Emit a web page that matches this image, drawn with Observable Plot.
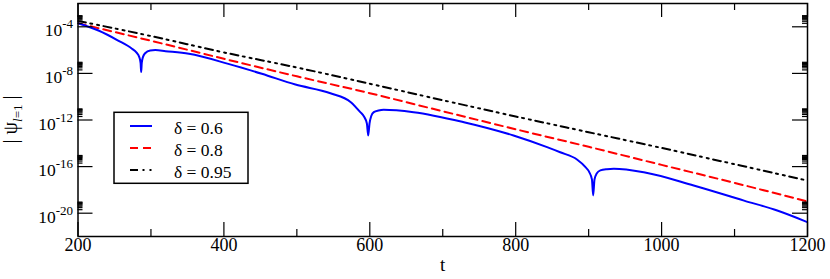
<!DOCTYPE html>
<html><head><meta charset="utf-8">
<script src="https://cdn.jsdelivr.net/npm/d3@7"></script>
<script src="https://cdn.jsdelivr.net/npm/@observablehq/plot@0.6"></script>
<style>
html,body{margin:0;padding:0;background:#fff;}
#chart svg{display:block;}
#chart svg text{font-family:"Liberation Serif","Times New Roman",Times,Tinos,"DejaVu Serif","Noto Serif",serif;}
</style></head><body><div id="chart"></div>
<script>
// ---- data ----
const tBlue = [200,228,255,274,280,284,285.8,286.6,287.4,289,292,299,306,320,352,406,452,498,546,574,587,592,596,597.8,599.6,602,605.5,612,619,660,729,797,843,861,884,895,901,904.5,906.2,908,911,916,925,934.5,975.6,1044,1113,1158.5,1200];
const psiBlue = [2.0e-4,4.8e-5,6.6e-6,1.3e-6,6.3e-7,2.5e-7,7.9e-8,1.3e-8,7.9e-8,2.5e-7,5.4e-7,9.3e-7,1.0e-6,8.1e-7,4.8e-7,6.6e-8,9.3e-9,1.1e-9,2.0e-10,3.4e-11,4.7e-12,2.0e-12,5.0e-13,4.7e-14,5.0e-13,2.2e-12,4.7e-12,6.6e-12,7.6e-12,4.7e-12,6.5e-13,4.7e-14,4.7e-15,1.7e-15,4.1e-16,1.0e-16,3.2e-17,7.9e-18,3.3e-19,7.9e-18,2.5e-17,4.7e-17,6.0e-17,6.5e-17,3.3e-17,2.4e-18,1.2e-19,1.7e-20,1.7e-21];
const tRed = [200,300,400,500,600,700,800,900,1000,1100,1200];
const psiRed = [2.0e-4,6.3e-6,1.8e-7,5.6e-9,2.0e-10,5.6e-12,1.6e-13,5.0e-15,1.4e-16,4.0e-18,1.0e-19];
const tBlack = [200,300,400,500,600,700,800,900,1000,1100,1200];
const psiBlack = [3.2e-4,1.6e-5,6.3e-7,3.2e-8,1.3e-9,5.0e-11,2.0e-12,8.9e-14,4.0e-15,1.6e-16,6.3e-18];

const seriesNames = ["δ = 0.6", "δ = 0.8", "δ = 0.95"];
const seriesColors = ["#0000ff", "#ff0000", "#000000"];
const seriesDash = [null, "8,5", "8,4.5,2,5,2,4.5"];

const xMajorTicks = [200,400,600,800,1000,1200];
const xMinorTicks = [300,500,700,900,1100];
const yMajorTicks = [1e-4,1e-8,1e-12,1e-16,1e-20];
const yTickExponents = ["-4","-8","-12","-16","-20"];
const yMinorMultipliers = [2,3,4,5,6,7,8,9];
const xLabel = "t";

// ---- layout ----
const W = 830, H = 279;
const mL = 77.5, mR = 23, mT = 3, mB = 43;
const innerW = W - mL - mR, innerH = H - mT - mB;
const FONT = "Liberation Serif, Times New Roman, Times, Tinos, DejaVu Serif, Noto Serif, serif";

const rows = (ts, vs, name) => ts.map((t, i) => ({t, v: vs[i], name}));
const data = [
  ...rows(tBlue, psiBlue, seriesNames[0]),
  ...rows(tRed, psiRed, seriesNames[1]),
  ...rows(tBlack, psiBlack, seriesNames[2])
];
const yMinorTicks = yMajorTicks.flatMap(m => yMinorMultipliers.map(k => k * m));

const lineMark = (i) => Plot.line(data.filter(d => d.name === seriesNames[i]), {
  x: "t", y: "v", stroke: seriesColors[i], strokeWidth: 2,
  strokeDasharray: seriesDash[i] || undefined, curve: "monotone-x", clip: true
});

const tickStyle = {stroke: "#000", strokeWidth: 1.2};

const plot = Plot.plot({
  width: W, height: H,
  marginLeft: mL, marginRight: mR, marginTop: mT, marginBottom: mB,
  style: {fontFamily: FONT, background: "#fff", overflow: "visible", color: "#000"},
  x: {domain: [200, 1200], axis: null},
  y: {type: "log", domain: [1e-22, 1e-2], axis: null},
  marks: [
    lineMark(2), lineMark(1), lineMark(0),
    Plot.tickX(xMajorTicks, {x: d => d, insetTop: innerH - 14, ...tickStyle}),
    Plot.tickX(xMinorTicks, {x: d => d, insetTop: innerH - 7, ...tickStyle}),
    Plot.tickX(xMajorTicks, {x: d => d, insetBottom: innerH - 14, ...tickStyle}),
    Plot.tickX(xMinorTicks, {x: d => d, insetBottom: innerH - 7, ...tickStyle}),
    Plot.tickY(yMajorTicks, {y: d => d, insetRight: innerW - 15, ...tickStyle}),
    Plot.tickY(yMinorTicks, {y: d => d, insetRight: innerW - 5, ...tickStyle}),
    Plot.tickY(yMajorTicks, {y: d => d, insetLeft: innerW - 15, ...tickStyle}),
    Plot.tickY(yMinorTicks, {y: d => d, insetLeft: innerW - 5, ...tickStyle}),
    Plot.frame({stroke: "#000", strokeWidth: 1.5}),
    Plot.text(xMajorTicks, {x: d => d, frameAnchor: "bottom", dy: 14.5, text: d => String(d), fontSize: 18, fill: "#000"}),
    Plot.text([xLabel], {frameAnchor: "bottom", dy: 34, text: d => d, fontSize: 19, fill: "#000"})
  ]
});

document.getElementById("chart").appendChild(plot);

const svg = d3.select(plot);
const yScale = plot.scale("y");

yMajorTicks.forEach((v, i) => {
  const y = yScale.apply(v);
  const t = svg.append("text")
    .attr("x", 73).attr("y", y + 10)
    .attr("text-anchor", "end")
    .attr("font-size", 17.5).attr("fill", "#000");
  t.append("tspan").text("10");
  t.append("tspan").attr("dy", -8).attr("font-size", 13).text(yTickExponents[i]);
});

const yt = svg.append("text")
  .attr("transform", `translate(17,${mT + innerH / 2}) rotate(-90)`)
  .attr("text-anchor", "middle")
  .attr("font-size", 20).attr("fill", "#000");
yt.append("tspan").text("| ψ");
yt.append("tspan").attr("dy", 5).attr("font-size", 13).attr("font-style", "italic").text("l");
yt.append("tspan").attr("font-size", 13).text("=1");
yt.append("tspan").attr("dy", -5).text(" |");

const lg = svg.append("g");
lg.append("rect").attr("x", 114).attr("y", 112.3).attr("width", 134).attr("height", 71)
  .attr("fill", "#fff").attr("stroke", "#000").attr("stroke-width", 1.5);
seriesNames.forEach((name, i) => {
  const ry = 126 + i * 22;
  lg.append("line").attr("x1", 130).attr("x2", 152).attr("y1", ry).attr("y2", ry)
    .attr("stroke", seriesColors[i]).attr("stroke-width", 2)
    .attr("stroke-dasharray", seriesDash[i]);
  lg.append("text").attr("x", 174).attr("y", ry + 8)
    .attr("text-anchor", "start")
    .attr("font-size", 17.5).attr("fill", "#000")
    .text(name);
});
</script>
</body></html>
